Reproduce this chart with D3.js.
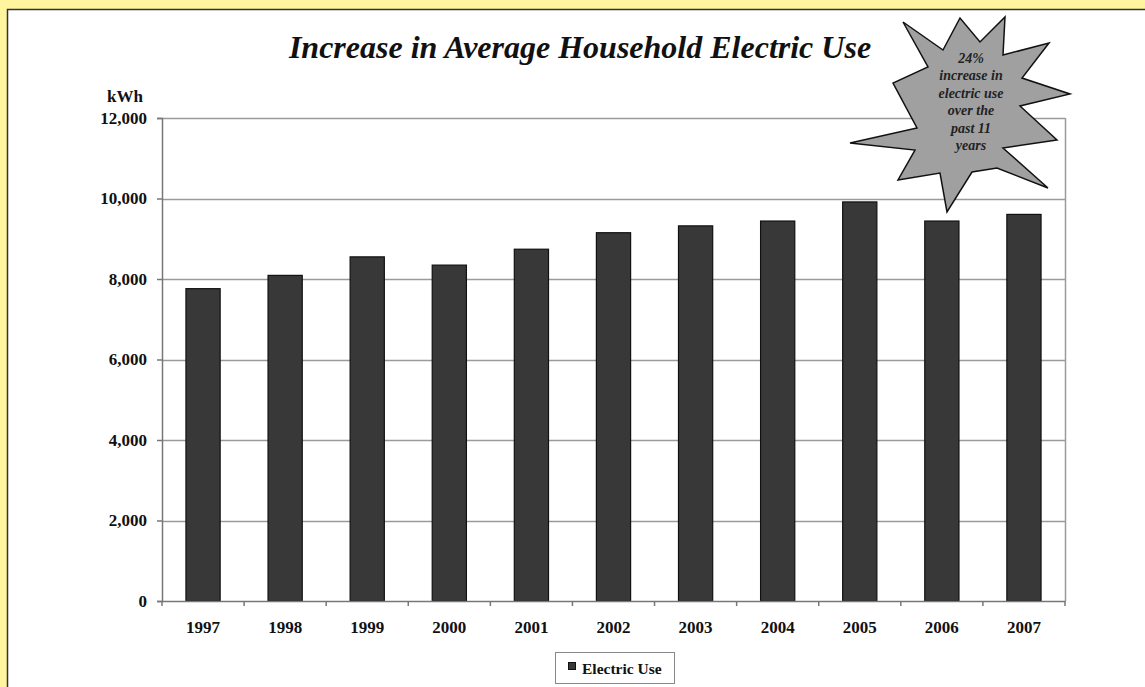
<!DOCTYPE html>
<html><head><meta charset="utf-8">
<script src="https://cdn.jsdelivr.net/npm/d3@7"></script>
<style>
html,body{margin:0;padding:0;background:#fff59e;}
svg{display:block;}
</style></head>
<body>
<script>
const years = ["1997","1998","1999","2000","2001","2002","2003","2004","2005","2006","2007"];
const electricUse = [7760, 8090, 8550, 8345, 8740, 9150, 9320, 9440, 9915, 9440, 9605];
const yTicks = [0, 2000, 4000, 6000, 8000, 10000, 12000];
const titleText = "Increase in Average Household Electric Use";
const unitLabel = "kWh";
const seriesName = "Electric Use";
const calloutLines = ["24%", "increase in", "electric use", "over the", "past 11", "years"];

const W = 1145, H = 687;
const svg = d3.select("body").append("svg").attr("width", W).attr("height", H);
const serif = "'Liberation Serif','Times New Roman',serif";

// background panel
svg.append("rect").attr("x",0).attr("y",0).attr("width",W).attr("height",H).attr("fill","#fff59e");
svg.append("rect").attr("x",7.5).attr("y",9.5).attr("width",W).attr("height",H).attr("fill","#fff").attr("stroke","#333").attr("stroke-width",1.5);

const m = {left:162, right:1065, top:118, bottom:601};
const x = d3.scaleBand().domain(years).range([m.left, m.right]).paddingInner(0.5833).paddingOuter(0.2917);
const xb = d3.scaleBand().domain(years).range([m.left, m.right]);
const y = d3.scaleLinear().domain([0, 12000]).range([m.bottom, m.top]);

// gridlines
svg.append("g").selectAll("line").data(yTicks.filter(d=>d>0)).join("line")
  .attr("x1", m.left).attr("x2", m.right)
  .attr("y1", d=>Math.round(y(d))+0.5).attr("y2", d=>Math.round(y(d))+0.5)
  .attr("stroke","#9a9a9a").attr("stroke-width",1.5);
// right border
svg.append("line").attr("x1",m.right+0.5).attr("x2",m.right+0.5).attr("y1",m.top).attr("y2",m.bottom)
  .attr("stroke","#9a9a9a").attr("stroke-width",1.5);

// bars
svg.append("g").selectAll("rect").data(years).join("rect")
  .attr("x", (d)=>x(d)).attr("width", x.bandwidth())
  .attr("y", (d,i)=>y(electricUse[i])).attr("height", (d,i)=>y(0)-y(electricUse[i]))
  .attr("fill","#383838").attr("stroke","#111").attr("stroke-width",1.2);

// y axis
const yAxis = svg.append("g").attr("transform",`translate(${m.left},0)`)
  .call(d3.axisLeft(y).tickValues(yTicks).tickSize(5).tickPadding(10).tickFormat(d3.format(",")));
yAxis.select(".domain").attr("stroke","#777").attr("stroke-width",1.5);
yAxis.selectAll(".tick line").attr("stroke","#777").attr("stroke-width",1.5);
yAxis.selectAll("text").attr("font-family",serif).attr("font-weight","bold").attr("font-size",17).attr("fill","#111");

// x axis
const xAxis = svg.append("g").attr("transform",`translate(0,${m.bottom})`)
  .call(d3.axisBottom(x).tickSize(0).tickPadding(20));
xAxis.select(".domain").attr("stroke","#777").attr("stroke-width",1.5);
xAxis.selectAll("text").attr("font-family",serif).attr("font-weight","bold").attr("font-size",17).attr("fill","#111");
// boundary ticks
svg.append("g").selectAll("line").data(years.concat(["end"])).join("line")
  .attr("x1",(d,i)=> i<years.length ? xb(d) : m.right).attr("x2",(d,i)=> i<years.length ? xb(d) : m.right)
  .attr("y1",m.bottom).attr("y2",m.bottom+5).attr("stroke","#777").attr("stroke-width",1.5);

// unit label
svg.append("text").attr("x",125).attr("y",102).attr("text-anchor","middle")
  .attr("font-family",serif).attr("font-weight","bold").attr("font-size",17).attr("fill","#111").text(unitLabel);

// title
svg.append("text").attr("x",580).attr("y",58).attr("text-anchor","middle")
  .attr("font-family",serif).attr("font-weight","bold").attr("font-style","italic").attr("font-size",32).attr("fill","#111").text(titleText);

// legend
const lg = svg.append("g");
lg.append("rect").attr("x",555.5).attr("y",652.5).attr("width",119).attr("height",31).attr("fill","#fff").attr("stroke","#888").attr("stroke-width",1);
lg.append("rect").attr("x",568.5).attr("y",662.5).attr("width",7).attr("height",7).attr("fill","#383838").attr("stroke","#111");
lg.append("text").attr("x",582).attr("y",674).attr("font-family",serif).attr("font-weight","bold").attr("font-size",15.5).attr("fill","#111").text(seriesName);

// starburst callout
const starPts = [[903,22],[943,50],[960,18],[980,42],[1005,17],[1003,55],[1049,43],[1022,78],[1070,94],[1020,106],
  [1057,140],[1003,148],[1048,188],[997,168],[972,172],[947,212],[940,173],[898,180],[915,150],[850,143],
  [917,128],[893,83],[928,67]];
svg.append("path").attr("d", d3.line()(starPts)+"Z").attr("fill","#a0a0a0").attr("stroke","#111").attr("stroke-width",1.5).attr("stroke-linejoin","miter");
svg.append("g").selectAll("text").data(calloutLines).join("text")
  .attr("x",971).attr("y",(d,i)=>63+i*17.4).attr("text-anchor","middle")
  .attr("font-family",serif).attr("font-weight","bold").attr("font-style","italic").attr("font-size",14).attr("fill","#222")
  .text(d=>d);
</script>
</body></html>
